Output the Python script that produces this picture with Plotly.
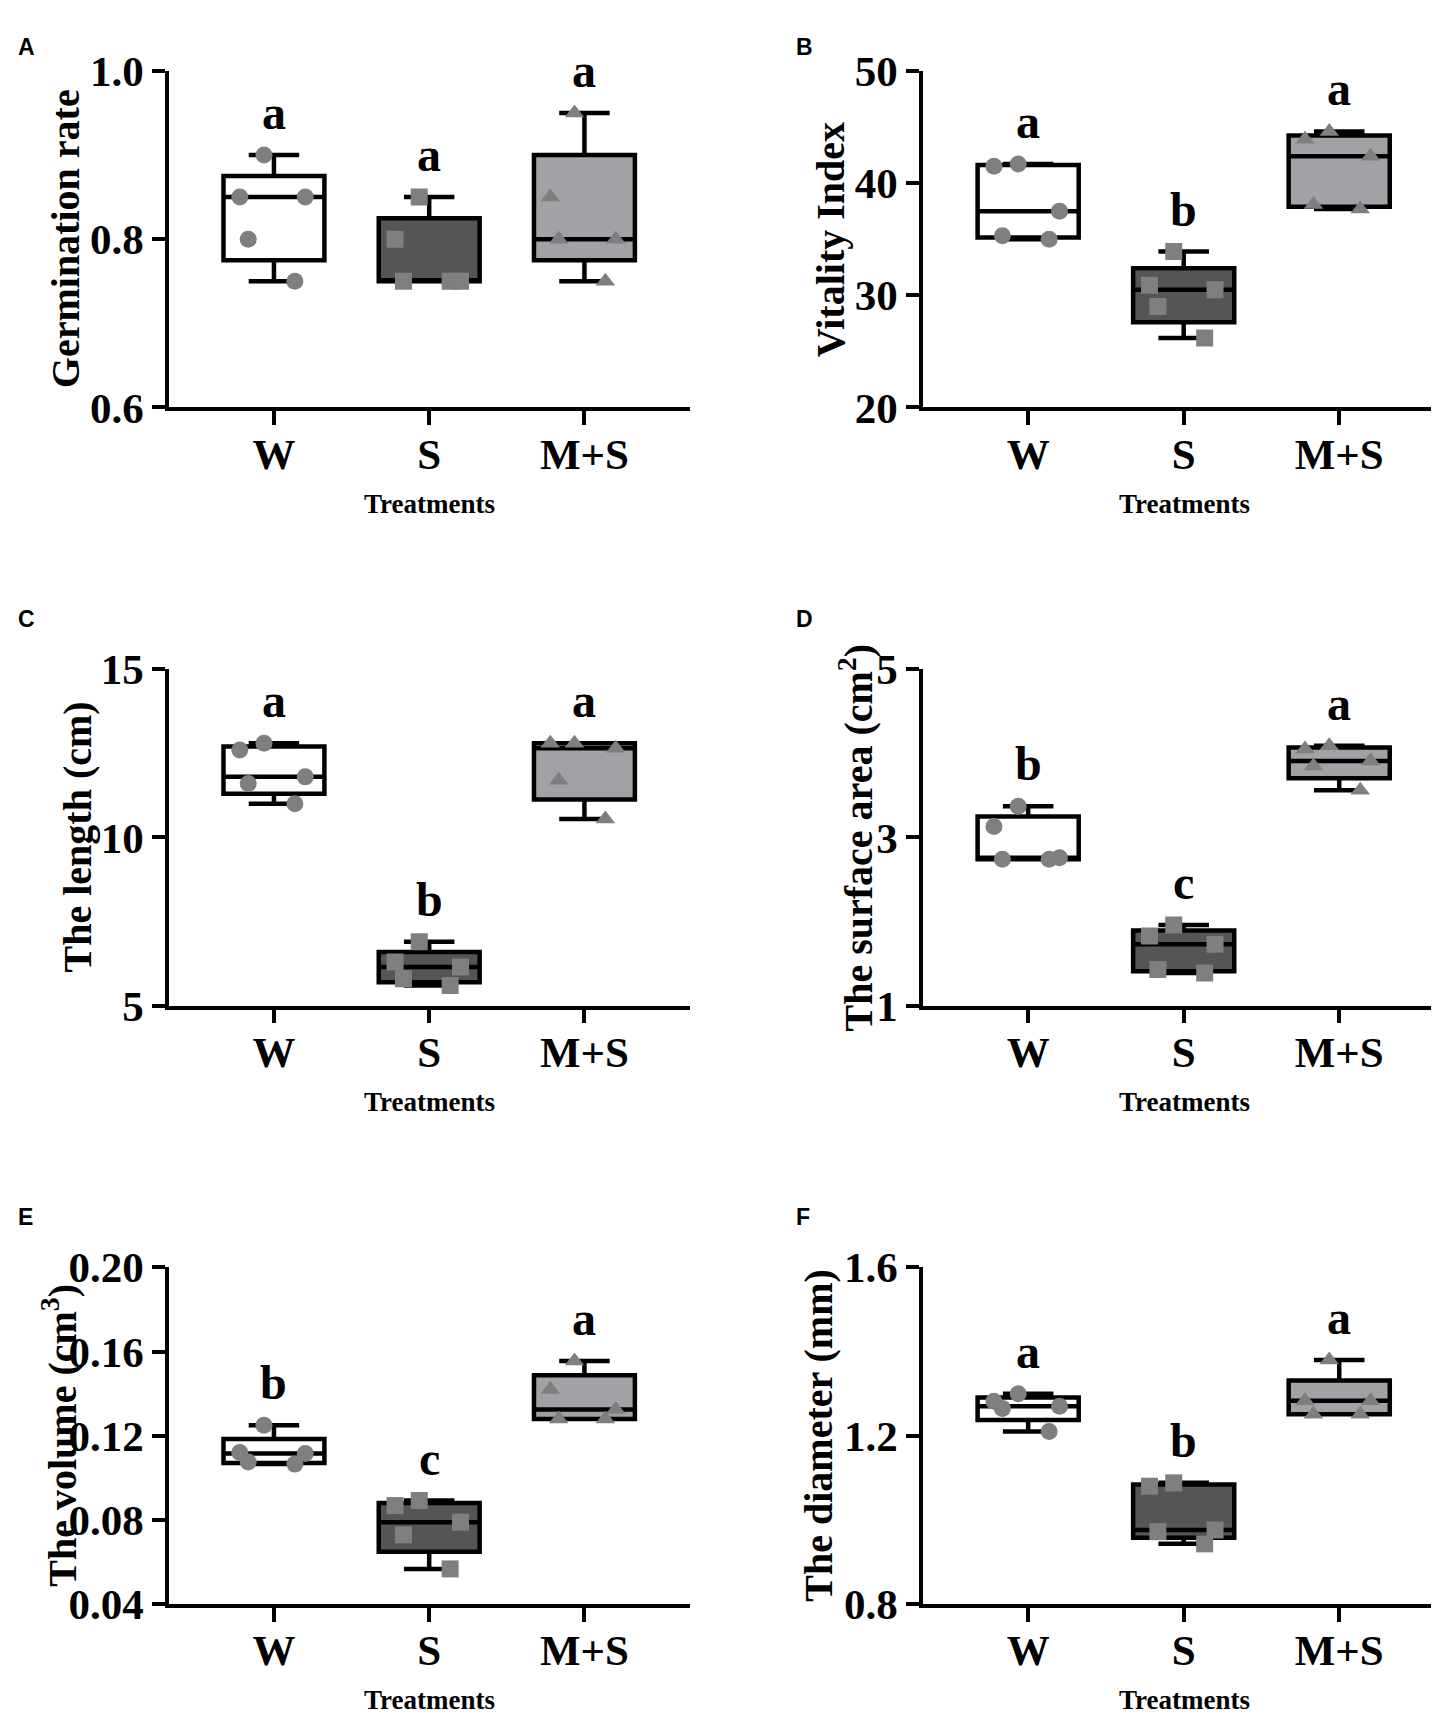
import plotly.graph_objects as go

# ---------------- data ----------------
categories = ["W", "S", "M+S"]

germ_W = [0.90, 0.85, 0.85, 0.80, 0.75]
germ_S = [0.85, 0.80, 0.75, 0.75, 0.75]
germ_MS = [0.95, 0.85, 0.80, 0.80, 0.75]
germ_letters = ["a", "a", "a"]

vit_W = [41.7, 41.5, 37.5, 35.3, 35.0]
vit_S = [33.9, 30.9, 30.5, 29.0, 26.2]
vit_MS = [44.6, 43.9, 42.4, 38.1, 37.7]
vit_letters = ["a", "b", "a"]

len_W = [12.8, 12.6, 11.8, 11.6, 11.0]
len_S = [6.9, 6.3, 6.15, 5.8, 5.6]
len_MS = [12.8, 12.8, 12.65, 11.7, 10.55]
len_letters = ["a", "b", "a"]

area_W = [3.37, 3.13, 2.76, 2.74, 2.74]
area_S = [1.96, 1.83, 1.73, 1.43, 1.39]
area_MS = [4.09, 4.05, 3.91, 3.85, 3.56]
area_letters = ["b", "c", "a"]

vol_W = [0.125, 0.112, 0.1115, 0.1075, 0.1065]
vol_S = [0.0892, 0.0868, 0.0789, 0.0729, 0.0567]
vol_MS = [0.1555, 0.142, 0.1325, 0.128, 0.128]
vol_letters = ["b", "c", "a"]

dia_W = [1.300, 1.282, 1.270, 1.265, 1.210]
dia_S = [1.088, 1.080, 0.976, 0.972, 0.943]
dia_MS = [1.380, 1.283, 1.283, 1.251, 1.251]
dia_letters = ["a", "b", "a"]

panel_labels = ["A", "B", "C", "D", "E", "F"]
y_titles = ["Germination rate", "Vitality Index", "The length (cm)",
            "The surface area (cm<sup>2</sup>)", "The volume (cm<sup>3</sup>)",
            "The diameter (mm)"]
y_ranges = [[0.6, 1.0], [20, 50], [5, 15], [1, 5], [0.04, 0.20], [0.8, 1.6]]
y_ticks = [[0.6, 0.8, 1.0], [20, 30, 40, 50], [5, 10, 15], [1, 3, 5],
           [0.04, 0.08, 0.12, 0.16, 0.20], [0.8, 1.2, 1.6]]
y_formats = [".1f", "d", "d", "d", ".2f", ".1f"]
x_title = "Treatments"

panels = [
    (germ_W, germ_S, germ_MS, germ_letters),
    (vit_W, vit_S, vit_MS, vit_letters),
    (len_W, len_S, len_MS, len_letters),
    (area_W, area_S, area_MS, area_letters),
    (vol_W, vol_S, vol_MS, vol_letters),
    (dia_W, dia_S, dia_MS, dia_letters),
]

# ---------------- styling ----------------
W_PX, H_PX = 1439, 1728
SERIF = "Liberation Serif"
SANS = "Liberation Sans"
fills = ["#ffffff", "#555555", "#a2a2a6"]
symbols = ["circle", "square", "triangle-up"]
point_color = "#7f7f7f"

col_x = [(161, 682), (915, 1437)]
row_y = [(41, 387), (656, 1002), (1271, 1617)]
title_x_px = [57, 822, 69, 848, 52, 811]
label_pos = [(8, 16), (786, 16), (8, 604), (786, 604), (8, 1219), (786, 1219)]

fig = go.Figure()
annotations = []
layout_axes = {}

for i, (vw, vs, vms, letters) in enumerate(panels):
    r, c = divmod(i, 2)
    x0, x1 = col_x[c]
    yt, yb = row_y[r]
    xa = "x" if i == 0 else f"x{i+1}"
    ya = "y" if i == 0 else f"y{i+1}"
    xkey = "xaxis" if i == 0 else f"xaxis{i+1}"
    ykey = "yaxis" if i == 0 else f"yaxis{i+1}"

    for k, vals in enumerate([vw, vs, vms]):
        fig.add_trace(go.Box(
            x=[categories[k]] * len(vals), y=vals,
            xaxis=xa, yaxis=ya,
            boxpoints="all", jitter=0.8, pointpos=0,
            quartilemethod="exclusive",
            fillcolor=fills[k],
            line=dict(color="black", width=4.5),
            whiskerwidth=0.5, width=0.65,
            marker=dict(symbol=symbols[k], color=point_color, size=17,
                        line=dict(width=0)),
            showlegend=False, hoverinfo="y",
        ))
        annotations.append(dict(
            x=categories[k], y=max(vals), xref=xa, yref=ya,
            text=letters[k], showarrow=False, yanchor="bottom", yshift=14,
            font=dict(family=SERIF, size=48, color="black", weight="bold"),
        ))

    layout_axes[xkey] = dict(
        domain=[x0 / W_PX, x1 / W_PX], anchor=ya, type="category",
        categoryorder="array", categoryarray=categories,
        range=[-0.676, 2.68], showline=True, linecolor="black", linewidth=3.5,
        ticks="outside", ticklen=14, tickwidth=3.5, tickcolor="black",
        showgrid=False, zeroline=False,
        tickfont=dict(family=SERIF, size=43, color="black", weight="bold"),
        ticklabelstandoff=-8,
    )
    layout_axes[ykey] = dict(
        domain=[1 - yb / H_PX, 1 - yt / H_PX], anchor=xa,
        range=y_ranges[i], tickvals=y_ticks[i], tickformat=y_formats[i],
        showline=True, linecolor="black", linewidth=3.5,
        ticks="outside", ticklen=13, tickwidth=3.5, tickcolor="black",
        showgrid=False, zeroline=False,
        tickfont=dict(family=SERIF, size=43, color="black", weight="bold"),
    )

    # y-axis title
    annotations.append(dict(
        x=title_x_px[i] / W_PX, y=1 - (yt + yb) / 2 / H_PX,
        xref="paper", yref="paper", text=y_titles[i], textangle=-90,
        showarrow=False, xanchor="center", yanchor="middle",
        font=dict(family=SERIF, size=40, color="black", weight="bold"),
    ))
    # x-axis title
    annotations.append(dict(
        x=(x0 + x1) / 2 / W_PX, y=1 - (yb + 99) / H_PX,
        xref="paper", yref="paper", text=x_title,
        showarrow=False, xanchor="center", yanchor="middle",
        font=dict(family=SERIF, size=27, color="black", weight="bold"),
    ))
    # panel label
    lx, ly = label_pos[i]
    annotations.append(dict(
        x=lx / W_PX, y=1 - ly / H_PX, xref="paper", yref="paper",
        text=panel_labels[i], showarrow=False, xanchor="left", yanchor="middle",
        font=dict(family=SANS, size=23, color="black", weight="bold"),
    ))

fig.update_layout(
    width=W_PX, height=H_PX,
    margin=dict(l=0, r=0, t=0, b=0),
    paper_bgcolor="white", plot_bgcolor="white",
    boxmode="overlay",
    annotations=annotations,
    **layout_axes,
)

fig.write_html("out.html")
